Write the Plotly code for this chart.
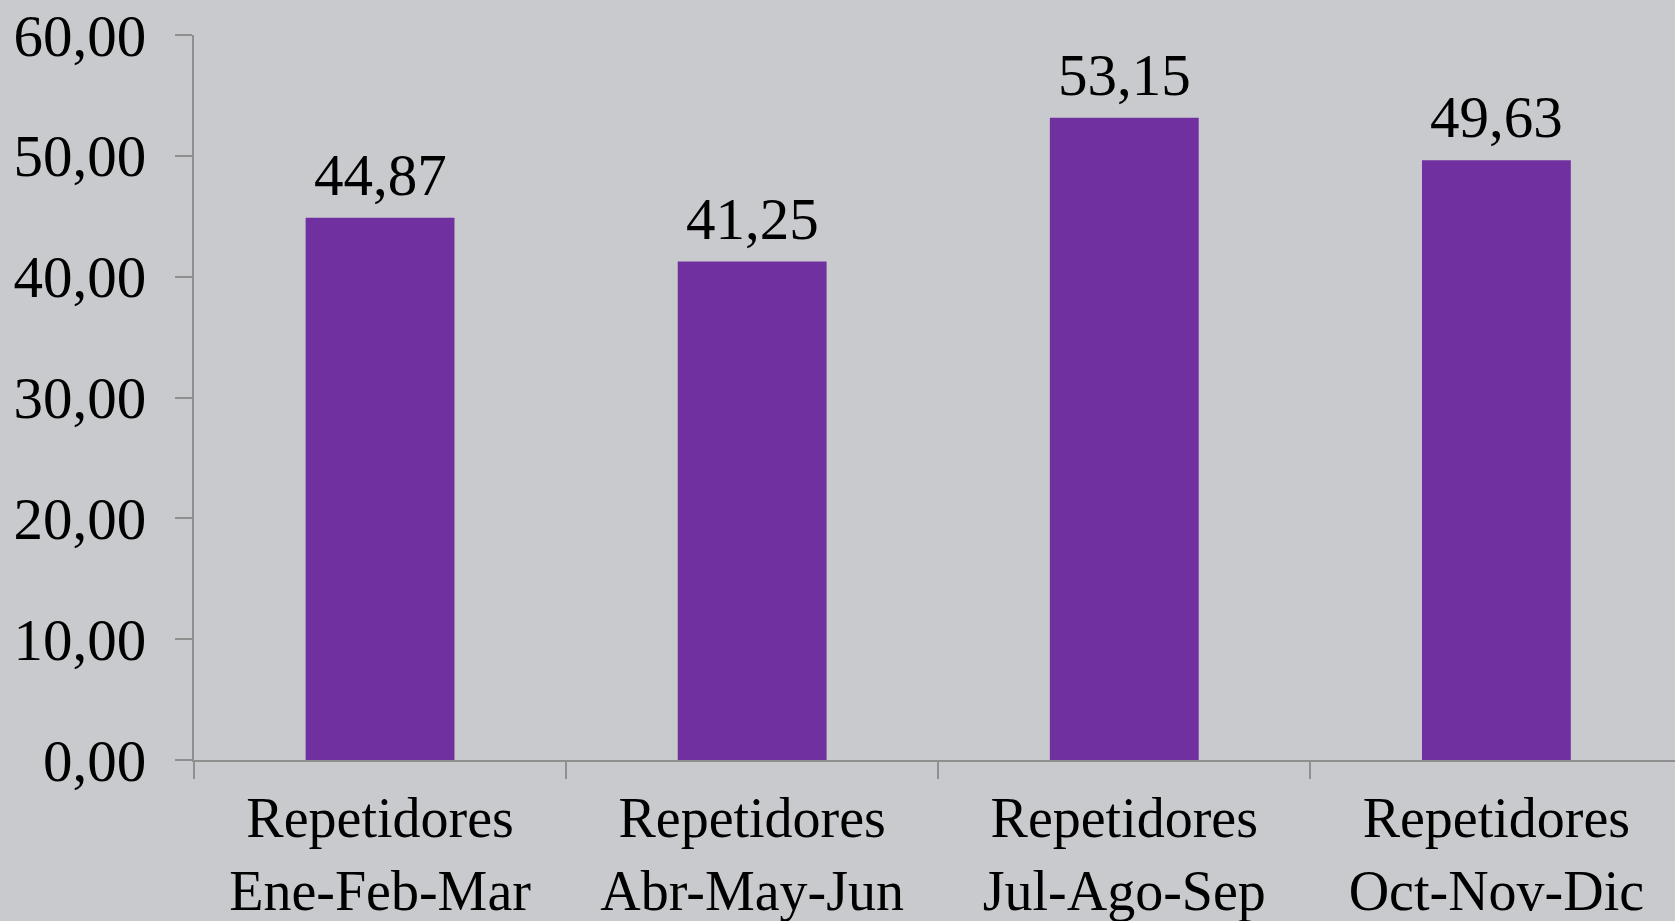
import plotly.graph_objects as go

categories = ["Repetidores<br>Ene-Feb-Mar", "Repetidores<br>Abr-May-Jun",
              "Repetidores<br>Jul-Ago-Sep", "Repetidores<br>Oct-Nov-Dic"]
values = [44.87, 41.25, 53.15, 49.63]
y_ticks = [0, 10, 20, 30, 40, 50, 60]

BG = "#c9cacd"
BAR = "#7030a0"
AX = "#8f8f8f"
FONT = "Liberation Serif"

fig = go.Figure(go.Bar(
    x=categories, y=values, width=0.4,
    marker=dict(color=BAR, line=dict(width=0)),
    hoverinfo="skip",
))

for c, v in zip(categories, values):
    fig.add_annotation(
        x=c, y=v, text=f"{v:.2f}".replace(".", ","), showarrow=False,
        yanchor="bottom", yshift=8,
        font=dict(family=FONT, size=59, color="black"),
    )

fig.update_layout(
    width=1675, height=921,
    paper_bgcolor=BG, plot_bgcolor=BG,
    margin=dict(l=194, r=0, t=35, b=161),
    separators=",.",
    showlegend=False,
    font=dict(family=FONT, size=56, color="black"),
    xaxis=dict(
        range=[-0.5, 3.48], tickson="boundaries", ticks="outside", ticklen=17,
        tickcolor=AX, tickwidth=1.5, showline=True, linecolor=AX, linewidth=2,
        showgrid=False, tickfont=dict(family=FONT, size=56), ticklabelstandoff=8,
        automargin=False,
    ),
    yaxis=dict(
        range=[0, 60], tickvals=y_ticks, tickformat=".2f", ticks="outside",
        ticklen=17, tickcolor=AX, tickwidth=1.5, showline=True, linecolor=AX,
        linewidth=2, showgrid=False, zeroline=False,
        tickfont=dict(family=FONT, size=59), ticklabelstandoff=17,
        automargin=False,
    ),
    bargap=0.6,
)

fig.write_html(
    "out.html",
    config={"displayModeBar": False},
    post_script=(
        "document.body.style.margin='0';"
        "document.body.style.overflow='hidden';"
        "document.body.style.background='" + BG + "';"
    ),
)
